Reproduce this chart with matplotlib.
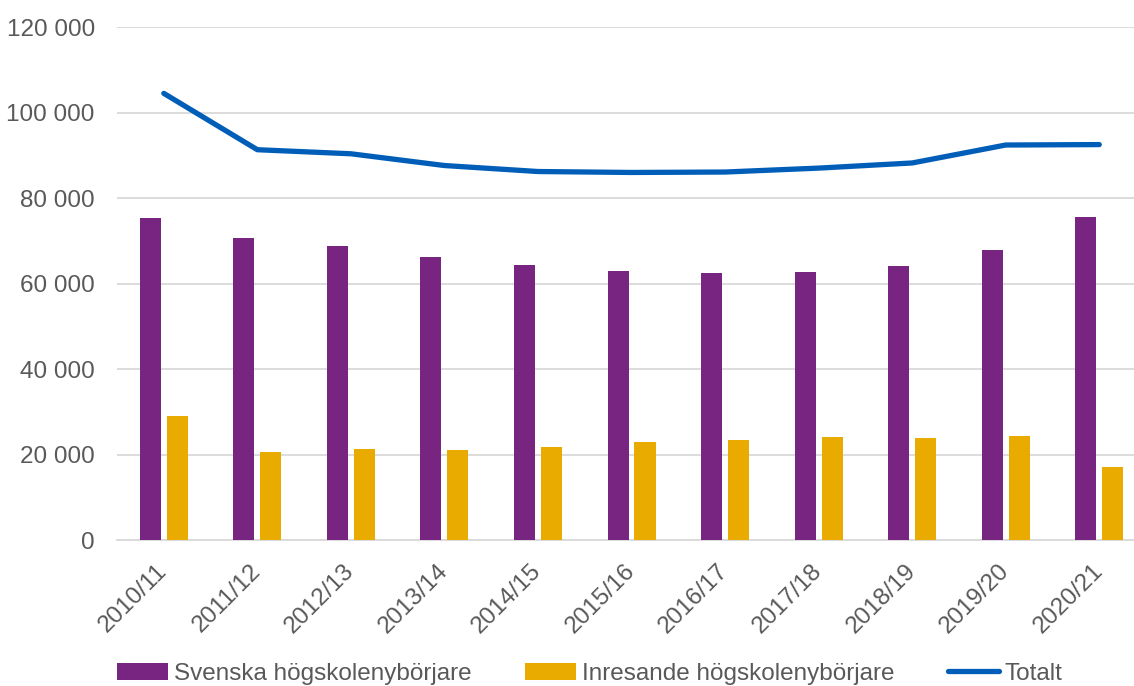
import matplotlib.pyplot as plt
import numpy as np
from matplotlib.ticker import FuncFormatter

plt.rcParams['font.family'] = ['Liberation Sans', 'DejaVu Sans']

# data
years = ["2010/11", "2011/12", "2012/13", "2013/14", "2014/15", "2015/16",
         "2016/17", "2017/18", "2018/19", "2019/20", "2020/21"]
svenska = [75400, 70550, 68840, 66260, 64390, 62920, 62350, 62580, 64150, 67740, 75470]
inresande = [29040, 20610, 21380, 21140, 21680, 22920, 23480, 24100, 23800, 24420, 17030]
totalt = [104480, 91300, 90350, 87600, 86200, 85980, 86080, 87000, 88200, 92400, 92500]

purple = "#782582"
orange = "#EAAB00"
blue = "#005EB8"
txt = "#595959"


def main():
    fig = plt.figure(figsize=(11.34, 6.86), dpi=100)
    ax = fig.add_axes([0.1032, 0.2128, 0.9074, 0.7478])

    x = np.arange(len(years))
    w = 0.225
    b1 = ax.bar(x - 0.144, svenska, w, color=purple, label="Svenska högskolenybörjare", zorder=3)
    b2 = ax.bar(x + 0.144, inresande, w, color=orange, label="Inresande högskolenybörjare", zorder=3)
    l1, = ax.plot(x, totalt, color=blue, lw=3.8, solid_capstyle="round", label="Totalt", zorder=4)

    ax.set_xlim(-0.5, len(years) - 0.5)
    ax.set_ylim(0, 120000)
    ax.set_yticks(np.arange(0, 120001, 20000))
    ax.yaxis.set_major_formatter(FuncFormatter(lambda v, p: f"{int(v):,}".replace(",", " ")))
    ax.grid(axis="y", color="#D9D9D9", lw=1.3, zorder=0)

    for s in ["top", "right", "left"]:
        ax.spines[s].set_visible(False)
    ax.spines["bottom"].set_color("#D9D9D9")
    ax.spines["bottom"].set_linewidth(1.3)

    ax.set_xticks(x)
    ax.set_xticklabels(years, rotation=45, ha="right", va="center", rotation_mode="anchor")
    ax.tick_params(axis="both", length=0, labelsize=17.5, labelcolor=txt)
    ax.tick_params(axis="x", pad=20)
    ax.tick_params(axis="y", pad=16)
    for lab in ax.get_xticklabels():
        lab.set_x(lab.get_position()[0])

    fig.legend([b1, b2, l1], [b1.get_label(), b2.get_label(), l1.get_label()],
               loc="lower center", bbox_to_anchor=(0.52, -0.03), ncol=3, frameon=False,
               fontsize=17.5, labelcolor=txt, handlelength=2.1, handletextpad=0.25,
               columnspacing=2.2)

    fig.savefig("out.png", dpi=100)


if __name__ == "__main__":
    main()
